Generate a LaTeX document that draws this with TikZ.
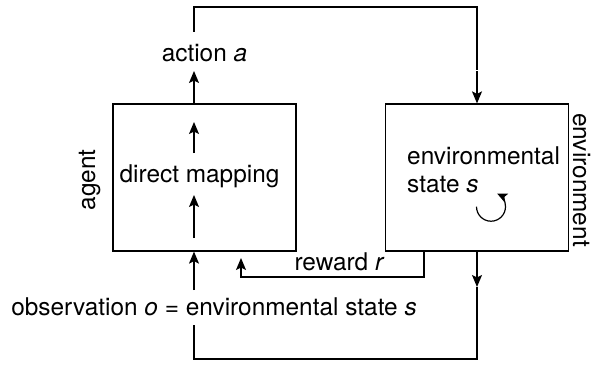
\documentclass[tikz,border=0pt]{standalone}
\usepackage{fontspec}
\setmainfont{TeX Gyre Heros}
\usetikzlibrary{arrows.meta}
\begin{document}
\begin{tikzpicture}[x=1pt,y=1pt,
  every node/.style={font=\fontsize{24.4}{28}\selectfont, inner sep=0pt},
  blockbox/.style={draw, line width=1.2pt, minimum width=183pt, minimum height=147pt},
  wire/.style={line width=1.2pt},
  flow/.style={wire, -{Stealth[length=12pt,width=10pt,inset=2.5pt]}},
  spinflow/.style={wire, -{Stealth[length=10pt,width=9pt,inset=2pt]}}]
\useasboundingbox (0,0) rectangle (593,365);

% agent and environment blocks
\node[blockbox] (agent) at (204.5,187.5) {};
\node[blockbox] (env) at (477,187.5) {};

% side labels
\node[anchor=base, rotate=90] (agentlbl) at (95,185) {agent};
\node[anchor=base, rotate=-90] (envlbl) at (573,185) {environment};

% texts
\node[anchor=base] (act) at (204.5,303.5) {action \textit{a}};
\node[anchor=base] (dm) at (199.5,183) {direct mapping};
\node[anchor=base west] (st1) at (407,201) {environmental};
\node[anchor=base west] (st2) at (407,173) {state \textit{s}};
\node[anchor=base] (rw) at (339.5,94.5) {reward \textit{r}};
\node[anchor=base] (obs) at (214,50) {observation \textit{o} = environmental state \textit{s}};

% named points of the connectors
\coordinate (actTip) at (194,294);
\coordinate (loopA) at (194,333);
\coordinate (topL) at (194,358);
\coordinate (topR) at (477,358);
\coordinate (loopB) at (477,295);
\coordinate (envIn) at (477,294);
\coordinate (m1a) at (194,212);
\coordinate (m1b) at (194,243);
\coordinate (m2a) at (194,127);
\coordinate (m2b) at (194,170);
\coordinate (obsOut) at (194,75);
\coordinate (obsIn) at (194,40);
\coordinate (rwTurn) at (424,88);
\coordinate (rwTip) at (241,107);
\coordinate (envOut) at (477,78);
\coordinate (botR) at (477,6);
\coordinate (botL) at (194,6);
\coordinate (spin) at (491,158.3);

% action goes out to the environment
\draw[flow] (agent.north -| actTip) -- (actTip);
\draw[wire] (loopA) -- (topL) -- (topR) -- (loopB);
\draw[flow] (envIn) -- (env.north);

% inside the agent
\draw[flow] (m1a) -- (m1b);
\draw[flow] (m2a) -- (m2b);

% reward back to the agent
\draw[flow] (env.south -| rwTurn) -- (rwTurn) -| (rwTip);

% state back to the agent as observation
\draw[flow] (env.south) -- (envOut);
\draw[wire] (envOut) -- (botR) -- (botL) -- (obsIn);
\draw[flow] (obsOut) -- (agent.south -| obsOut);

% state evolves by itself
\draw[spinflow] ([shift={(180:14.5)}]spin) arc[start angle=180, end angle=425, radius=14.5];
\end{tikzpicture}
\end{document}
